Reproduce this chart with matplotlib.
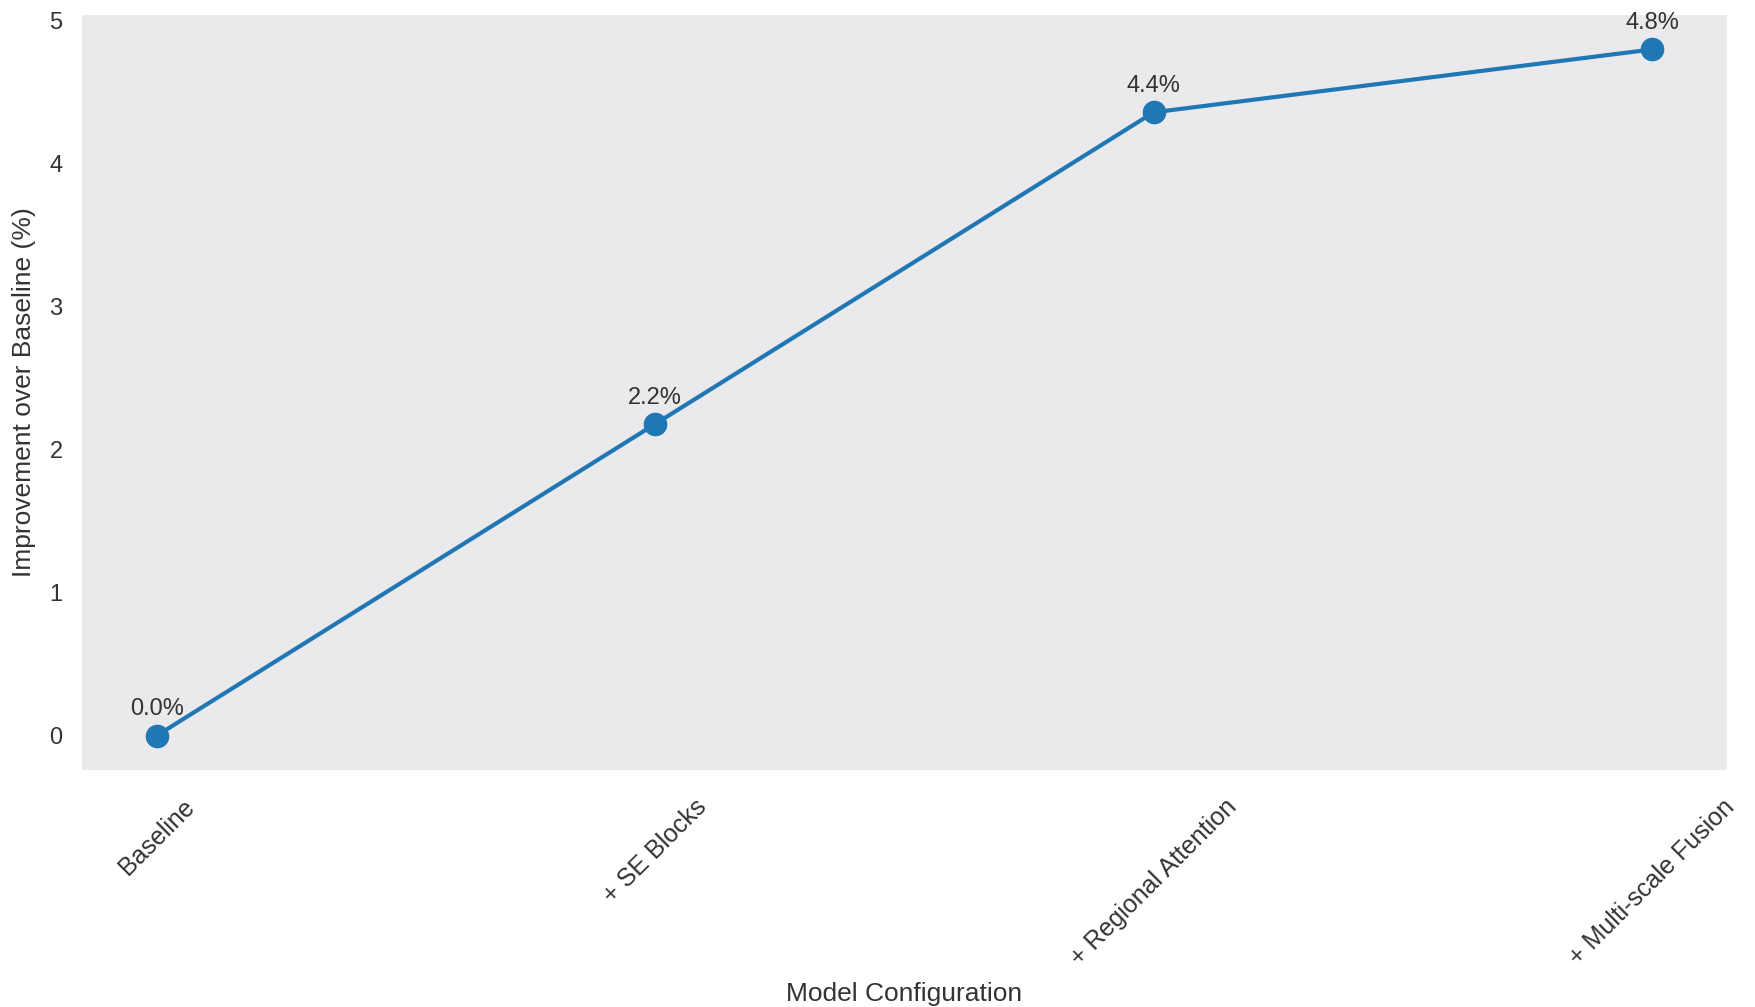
import matplotlib

matplotlib.use("Agg")
import matplotlib.pyplot as plt

configs = ["Baseline", "+ SE Blocks", "+ Regional Attention", "+ Multi-scale Fusion"]
improvement = [0.0, 2.18, 4.36, 4.80]

plt.rcParams["font.family"] = ["Liberation Sans", "DejaVu Sans"]

fig = plt.figure(figsize=(17.55, 10.07), dpi=100)
ax = fig.add_axes([0.0467, 0.2354, 0.9373, 0.7496])
ax.set_facecolor("#EAEAEC")
for s in ax.spines.values():
    s.set_visible(False)

x = range(len(configs))
ax.plot(x, improvement, color="#1f77b4", lw=3, marker="o", markersize=16)
for xi, v in zip(x, improvement):
    ax.annotate(f"{v:.1f}%", (xi, v), xytext=(0, 11), textcoords="offset points",
                ha="center", va="bottom", fontsize=17, color="#333333")

ax.set_xticks(list(x))
ax.set_xticklabels(configs, rotation=45, fontsize=18, color="#333333")
ax.tick_params(axis="y", length=0, labelsize=17, labelcolor="#333333", pad=14)
ax.tick_params(axis="x", length=0, labelcolor="#333333", pad=18)
ax.set_yticks([0, 1, 2, 3, 4, 5])
ax.set_xlabel("Model Configuration", fontsize=19, color="#333333", labelpad=8)
ax.set_ylabel("Improvement over Baseline (%)", fontsize=19, color="#333333", labelpad=10)

fig.savefig("out.png", dpi=100, facecolor="white")
